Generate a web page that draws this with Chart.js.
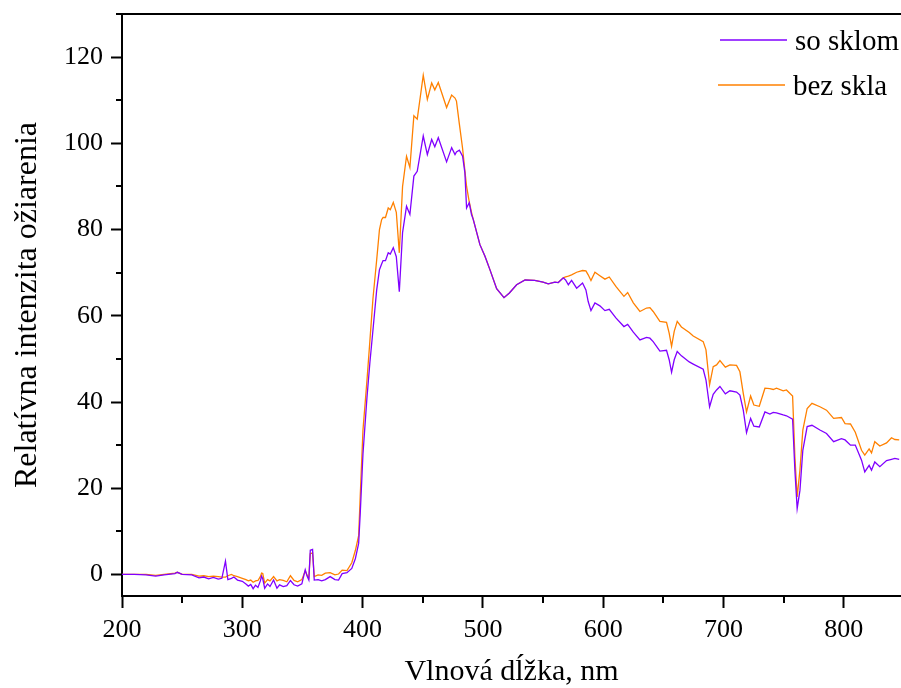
<!DOCTYPE html>
<html>
<head>
<meta charset="utf-8">
<script src="https://cdn.jsdelivr.net/npm/chart.js"></script>
<style>
html, body { margin: 0; padding: 0; background: #fff; }
#wrap { width: 901px; height: 688px; }
</style>
</head>
<body>
<div id="wrap"><canvas id="spektrum"></canvas></div>
<script>
// vlnova dlzka (nm)
var wavelength = [200, 210, 220, 228, 235, 244, 246, 250, 258, 264, 268, 272, 276, 280, 283, 286, 288, 291, 293, 296,
    300, 303, 305, 307, 309, 311, 313, 315, 316, 317, 318.6, 321, 323, 326, 328.8, 331, 334, 337, 340, 343, 346, 349.5,
    352.3, 354, 355.3, 356.5, 358.4, 359.8, 363, 366, 369, 373, 377, 380, 383, 387, 391, 394, 396.7, 398, 400.3, 403.6,
    406, 408.6, 411.7, 414, 415.8, 417, 419, 421.3, 423, 425.5, 428, 430.5, 433.2, 436.5, 439.3, 442.6, 445.4, 450.4,
    453.8, 457.4, 460, 462.9, 469.8, 474, 476.8, 478, 480.4, 483.1, 485, 486.4, 488.6, 490.5, 492, 497.5, 501.7, 505.8,
    511.4, 517.5, 522, 528, 535, 543, 550, 554.3, 559.8, 562.6, 566.8, 568.7, 571, 573.7, 577.9, 582.8, 585.6, 587.5,
    589.8, 593.1, 597.2, 601.4, 605, 610.5, 617.2, 620.3, 625, 630.5, 636, 638.8, 641.5, 647.1, 652.6, 654.8, 656.8,
    659, 661.5, 665, 671.5, 674.8, 683.1, 685.4, 688.4, 691.4, 694.2, 697, 701.5, 705.3, 710.8, 713.6, 716.4, 719.1,
    722.5, 725.2, 729.7, 734.4, 738.5, 741.3, 744, 749.6, 752.3, 757.4, 759.3, 761.2, 763.5, 765.9, 769.5, 773.5,
    780.1, 785.6, 791.5, 798, 801, 805.5, 809.5, 814.7, 817.4, 821, 823, 825.7, 829.9, 835.5, 839.6, 842.4, 846];

var soSklom = [0, 0, -0.1, -0.4, -0.1, 0.2, 0.5, 0, -0.1, -0.8, -0.6, -1.0, -0.7, -1.1, -0.9, 3.1, -1.2, -0.9, -0.6, -1.3,
    -1.6, -2.2, -2.7, -2.3, -3.3, -2.5, -3.0, -1.5, -0.4, -1.0, -3.2, -2.2, -2.8, -1.3, -3.2, -2.4, -2.8, -2.6, -1.4, -2.4, -2.7, -2.2,
    1.1, -0.5, -1.3, 5.6, 5.8, -1.3, -1.2, -1.5, -1.2, -0.5, -1.2, -1.3, 0.2, 0.4, 1.4, 3.7, 7.2, 14, 28, 41,
    49, 56.7, 66, 70.7, 72, 72.8, 72.8, 74.6, 74.3, 75.8, 73.7, 65.6, 79.3, 85.4, 83.5, 92.4, 93.5, 101.7,
    97.4, 100.9, 99.2, 101.3, 95.7, 99, 97.4, 98, 98.4, 97, 93.2, 85, 86.2, 83.5, 82.3, 76.5, 73.8, 70.7,
    66.3, 64.2, 65.3, 67.2, 68.3, 68.2, 67.8, 67.4, 67.8, 67.7, 68.8, 68.3, 67.2, 68.2, 66.4, 67.6, 66.0, 63.3,
    61.2, 63.0, 62.3, 61.2, 61.5, 59.5, 57.5, 58.0, 56.2, 54.4, 55.0, 54.8, 54.0, 51.8, 52.0, 49.8, 46.9,
    49.8, 51.7, 50.7, 49.3, 48.8, 47.6, 45.1, 38.9, 41.8, 42.8, 43.6, 41.9, 42.6, 42.3, 41.6, 38.1, 32.9,
    36.2, 34.4, 34.2, 37.7, 37.2, 37.6, 37.5, 37.0, 36.8, 36.0, 24.2, 15.3, 19.5, 28.8, 34.3, 34.6,
    33.5, 32.7, 30.8, 31.5, 31.2, 30.0, 30.0, 26.5, 23.8, 25.3, 24.2, 26.1, 25.0, 26.4, 26.7, 26.9, 26.7];

var bezSkla = [0, 0, 0, -0.2, 0, 0.3, 0.5, 0, 0, -0.4, -0.3, -0.5, -0.4, -0.5, -0.6, -0.6, -0.3, 0, -0.3, -0.5,
    -0.9, -1.2, -1.5, -1.3, -1.8, -1.5, -1.4, -0.5, 0.3, 0.2, -2.0, -1.2, -1.5, -0.5, -1.5, -1.2, -1.4, -1.7, -0.3, -1.4, -1.7, -1.2,
    0.8, -0.3, -0.8, 4.8, 5.0, -0.5, -0.1, -0.2, 0.3, 0.4, -0.1, 0.1, 1.0, 0.9, 2.7, 5.6, 9.0, 18, 33.5, 45,
    54, 64, 73, 80, 82.3, 82.8, 82.8, 85, 84.6, 86.3, 84, 74.6, 90, 97, 94.4, 106.4, 105.6, 115.8,
    110.2, 114, 112.4, 114.1, 108.3, 111.2, 110.5, 109.8, 104.5, 98.8, 93.7, 90, 86.5, 84, 82.3, 76.5, 73.8, 70.7,
    66.3, 64.2, 65.3, 67.2, 68.3, 68.2, 67.8, 67.4, 67.8, 67.7, 68.8, 69.0, 69.2, 69.5, 70.1, 70.5, 70.4, 69.5,
    68.2, 70.1, 69.3, 68.5, 69.0, 66.8, 64.5, 65.4, 63.0, 61.0, 61.8, 61.9, 61.0, 58.7, 58.5, 56.0, 52.9,
    56.4, 58.7, 57.4, 56.1, 55.3, 54.0, 52.1, 44.0, 48.2, 48.6, 49.6, 48.1, 48.6, 48.5, 47.0, 42.0, 37.7,
    41.4, 39.3, 39.0, 43.2, 43.1, 42.9, 43.2, 42.6, 42.8, 41.4, 27.3, 18.0, 24.2, 33.5, 38.5, 39.7,
    38.9, 38.1, 36.2, 36.4, 35.0, 34.9, 33.0, 28.8, 27.7, 29.1, 28.2, 30.8, 29.8, 30.5, 31.7, 31.3, 31.2];

var seriesNames = ['so sklom', 'bez skla'];
var xMinor = [250, 350, 450, 550, 650, 750];
var yMinor = [10, 30, 50, 70, 90, 110, 130];

function points(ys) {
    var out = [];
    for (var i = 0; i < wavelength.length; i++) {
        out.push({ x: wavelength[i], y: ys[i] });
    }
    return out;
}

var serif = 'Liberation Serif, Times New Roman, serif';

// kratke vedlajsie ciarky, horna hrana a legenda vo vnutri grafu
var extras = {
    id: 'extras',
    afterDraw: function (chart) {
        var ctx = chart.ctx;
        var area = chart.chartArea;
        var xs = chart.scales.x, ys = chart.scales.y;
        ctx.save();
        ctx.strokeStyle = '#000';
        ctx.lineWidth = 2;
        ctx.beginPath();
        for (var i = 0; i < xMinor.length; i++) {
            var px = Math.round(xs.getPixelForValue(xMinor[i]));
            ctx.moveTo(px, area.bottom);
            ctx.lineTo(px, area.bottom + 7);
        }
        for (var j = 0; j < yMinor.length; j++) {
            var py = Math.round(ys.getPixelForValue(yMinor[j]));
            ctx.moveTo(area.left, py);
            ctx.lineTo(area.left - 6, py);
        }
        ctx.moveTo(area.left, area.top);
        ctx.lineTo(chart.width, area.top);
        ctx.stroke();

        ctx.font = '29px ' + serif;
        ctx.fillStyle = '#000';
        ctx.textBaseline = 'middle';
        var rows = [[720, 787, 40], [718, 785, 85]];
        chart.data.datasets.forEach(function (ds, k) {
            var r = rows[k];
            ctx.strokeStyle = ds.borderColor;
            ctx.lineWidth = 1.3;
            ctx.beginPath();
            ctx.moveTo(r[0], r[2]);
            ctx.lineTo(r[1], r[2]);
            ctx.stroke();
            ctx.fillText(ds.label, r[1] + 8, r[2] + 2);
        });
        ctx.restore();
    }
};

var ctx = document.getElementById('spektrum');

var spectrumChart = new Chart(ctx, {
    type: 'line',
    data: {
        datasets: [{
            label: seriesNames[0],
            data: points(soSklom),
            borderColor: '#8000ff',
            borderWidth: 1.3,
            pointRadius: 0,
            tension: 0
        }, {
            label: seriesNames[1],
            data: points(bezSkla),
            borderColor: '#ff8000',
            borderWidth: 1.3,
            pointRadius: 0,
            tension: 0
        }]
    },
    options: {
        responsive: true,
        maintainAspectRatio: false,
        animation: false,
        layout: { padding: { top: 14, right: 0, left: 0, bottom: 0 } },
        plugins: {
            legend: { display: false },
            tooltip: { enabled: false }
        },
        scales: {
            x: {
                type: 'linear',
                min: 200,
                max: 847.5,
                afterFit: function (scale) {
                    scale.height = 92;
                    scale.paddingLeft = 0;
                    scale.paddingRight = 0;
                },
                ticks: {
                    stepSize: 100,
                    includeBounds: false,
                    color: '#000',
                    padding: 7,
                    maxRotation: 0,
                    font: { family: serif, size: 26 }
                },
                grid: {
                    drawOnChartArea: false,
                    tickLength: 12,
                    tickWidth: 2,
                    tickColor: '#000'
                },
                border: { color: '#000', width: 2 },
                title: {
                    display: true,
                    text: 'Vlnová dĺžka, nm',
                    color: '#000',
                    font: { family: serif, size: 30 },
                    padding: { top: 4, bottom: -2 }
                }
            },
            y: {
                min: -5,
                max: 130,
                afterFit: function (scale) {
                    scale.width = 122;
                    scale.paddingTop = 0;
                    scale.paddingBottom = 0;
                },
                ticks: {
                    stepSize: 20,
                    includeBounds: false,
                    color: '#000',
                    padding: 8,
                    font: { family: serif, size: 26 }
                },
                grid: {
                    drawOnChartArea: false,
                    tickLength: 11,
                    tickWidth: 2,
                    tickColor: '#000'
                },
                border: { color: '#000', width: 2 },
                title: {
                    display: true,
                    text: 'Relatívna intenzita ožiarenia',
                    color: '#000',
                    font: { family: serif, size: 32 },
                    padding: { top: 8, bottom: 0 }
                }
            }
        }
    },
    plugins: [extras]
});
</script>
</body>
</html>
